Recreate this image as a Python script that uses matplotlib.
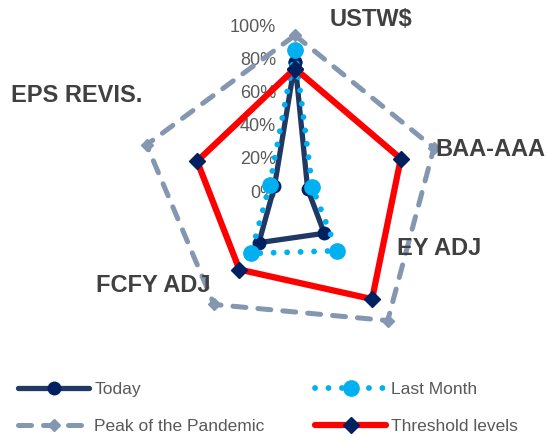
import numpy as np
import matplotlib
matplotlib.use("Agg")
import matplotlib.pyplot as plt
from matplotlib import transforms
from matplotlib.lines import Line2D

plt.rcParams['font.family'] = ['Liberation Sans', 'DejaVu Sans']

# data (share of threshold, 0..1)
categories = ["USTW$", "BAA-AAA", "EY ADJ", "FCFY ADJ", "EPS REVIS."]
today = [0.79, 0.08, 0.30, 0.37, 0.13]
last_month = [0.86, 0.11, 0.43, 0.45, 0.16]
peak = [0.95, 0.88, 0.95, 0.83, 0.94]
threshold = [0.75, 0.67, 0.79, 0.57, 0.62]
radial_ticks = [0, 0.2, 0.4, 0.6, 0.8, 1.0]
radial_labels = ["0%", "20%", "40%", "60%", "80%", "100%"]

W, H = 546, 441
fig = plt.figure(figsize=(W / 100, H / 100), dpi=100)

# polar axes: centre at (295,193) px, 100% = 166 px
cx, cy, rad = 295, 193, 166
ax = fig.add_axes([(cx - rad) / W, (H - cy - rad) / H, 2 * rad / W, 2 * rad / H],
                  projection="polar")
ax.set_theta_offset(np.pi / 2)
ax.set_theta_direction(-1)
ax.set_ylim(0, 1)
ax.grid(False)
ax.spines["polar"].set_visible(False)
ax.set_xticks([])
ax.set_yticks([])
ax.patch.set_alpha(0)

n = len(categories)
theta = np.linspace(0, 2 * np.pi, n, endpoint=False)


def closed(v):
    return np.append(theta, theta[0]), np.append(v, v[0])


# radial axis labels, left of the vertical axis
off = transforms.offset_copy(ax.transData, fig=fig, x=-19, y=0, units="dots")
for r, lab in zip(radial_ticks, radial_labels):
    ax.text(0, r, lab, transform=off, ha="right", va="center",
            fontsize=13, color="#595959", zorder=1)

t, v = closed(today)
ax.plot(t, v, color="#1F3864", lw=3.8, marker="o", ms=9,
        mfc="#002060", mec="#002060", zorder=3, solid_joinstyle="miter")
t, v = closed(last_month)
ax.plot(t, v, color="#00B0F0", lw=4.2, ls=(0, (0.01, 2.3)),
        dash_capstyle="round", zorder=4)
ax.plot(theta, last_month, ls="none", marker="o", ms=11,
        mfc="#00B0F0", mec="#00B0F0", zorder=4)
t, v = closed(peak)
ax.plot(t, v, color="#8497B0", lw=3.6, ls=(0, (2.6, 2.4)),
        dash_capstyle="round", zorder=2)
ax.plot(theta, peak, ls="none", marker="D", ms=6,
        mfc="#8497B0", mec="#8497B0", zorder=2)
t, v = closed(threshold)
ax.plot(t, v, color="#FF0000", lw=4.5, marker="D", ms=8,
        mfc="#002060", mec="#002060", zorder=5, solid_joinstyle="miter")

# category labels
label_pos = {
    "USTW$": (330, 20, "left"),
    "BAA-AAA": (545, 149, "right"),
    "EY ADJ": (397, 249, "left"),
    "FCFY ADJ": (210, 285, "right"),
    "EPS REVIS.": (142, 95, "right"),
}
for name in categories:
    x, y, ha = label_pos[name]
    fig.text(x / W, 1 - y / H, name, ha=ha, va="center", fontsize=17,
             fontweight="bold", color="#404040")

h_today = Line2D([], [], color="#1F3864", lw=3.8, marker="o", ms=9,
                 mfc="#002060", mec="#002060", solid_capstyle="round")
h_last = Line2D([], [], color="#00B0F0", lw=4.2, ls=(0, (0.01, 2.3)),
                dash_capstyle="round", marker="o", ms=11, mfc="#00B0F0", mec="#00B0F0")
h_peak = Line2D([], [], color="#8497B0", lw=3.6, ls=(0, (2.6, 2.4)),
                dash_capstyle="round", marker="D", ms=6, mfc="#8497B0", mec="#8497B0")
h_thr = Line2D([], [], color="#FF0000", lw=4.5, marker="D", ms=8,
               mfc="#002060", mec="#002060", solid_capstyle="round")
# column-wise order so rows read Today / Last Month, Peak / Threshold
handles = [h_today, h_peak, h_last, h_thr]
names = ["Today", "Peak of the Pandemic", "Last Month", "Threshold levels"]
leg = fig.legend(handles, names, ncol=2, loc="lower left",
                 bbox_to_anchor=(18 / W, 0.016), frameon=False, fontsize=12.5,
                 handlelength=4.1, handletextpad=0.3, columnspacing=2.9,
                 labelspacing=1.23, borderpad=0, borderaxespad=0,
                 labelcolor="#595959")

fig.savefig("out.png", dpi=100)
